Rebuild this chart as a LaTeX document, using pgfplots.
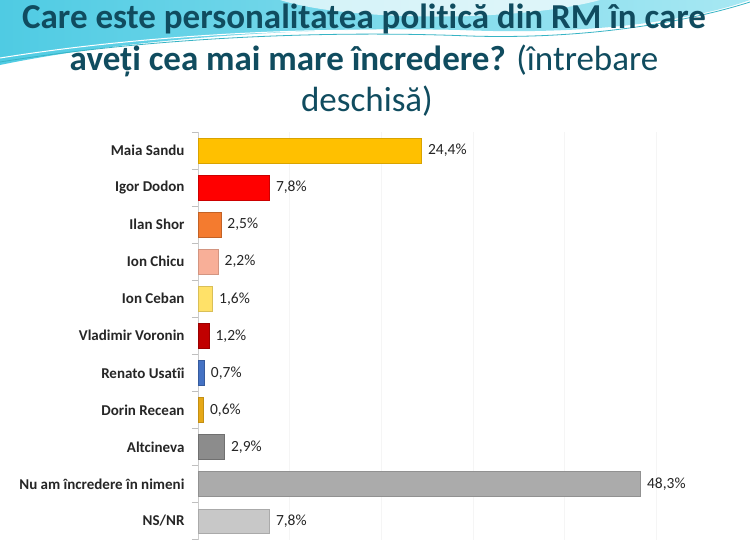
\documentclass[border=0pt]{standalone}
\usepackage{pgfplots}
\pgfplotsset{compat=1.18}
\usepackage{fontspec}
\setmainfont{Carlito}[Ligatures=NoCommon]
\definecolor{titlec}{RGB}{16,76,95}
\definecolor{wave1}{HTML}{4FCBE3}
\definecolor{wave2}{HTML}{A8E8F3}
\definecolor{maia}{HTML}{FFC000}
\definecolor{igor}{HTML}{FF0000}
\definecolor{ilan}{HTML}{F47B2F}
\definecolor{chicu}{HTML}{F8AF98}
\definecolor{ceban}{HTML}{FFE168}
\definecolor{voronin}{HTML}{C00000}
\definecolor{usatii}{HTML}{4472C4}
\definecolor{recean}{HTML}{E6A817}
\definecolor{alt}{HTML}{8C8C8C}
\definecolor{nuam}{HTML}{ABABAB}
\definecolor{nsnr}{HTML}{C8C8C8}
\begin{document}
\begin{tikzpicture}
\path[use as bounding box, fill=white] (0pt,0pt) rectangle (750pt,-550pt);
% decorative wave
\shade[left color=wave1, right color=wave2] (0pt,0pt) -- (0pt,-65pt) .. controls (120pt,-40pt) and (300pt,-26pt) .. (460pt,-30pt) .. controls (600pt,-36pt) and (700pt,-18pt) .. (750pt,0pt) -- cycle;
\fill[white, opacity=0.7] (280pt,0pt) .. controls (350pt,-22pt) and (520pt,-22pt) .. (600pt,0pt) -- cycle;
\draw[wave1!70!teal, line width=0.8pt] (0pt,-62pt) .. controls (150pt,-38pt) and (320pt,-30pt) .. (470pt,-36pt) .. controls (600pt,-40pt) and (700pt,-18pt) .. (750pt,-2pt);
\draw[white, line width=1pt] (0pt,-58pt) .. controls (150pt,-34pt) and (320pt,-26pt) .. (470pt,-32pt);
% title
\node[anchor=base, font=\bfseries\fontsize{35}{40}\selectfont, text=titlec, inner sep=0pt] at (364pt,-28pt) {Care este personalitatea politică din RM în care};
\node[anchor=base, font=\fontsize{35}{40}\selectfont, text=titlec, inner sep=0pt] at (364pt,-70pt) {\textbf{aveți cea mai mare încredere?} (întrebare};
\node[anchor=base, font=\fontsize{35}{40}\selectfont, text=titlec, inner sep=0pt] at (367pt,-111pt) {deschisă)};
\begin{axis}[
  at={(198pt,-132pt)}, anchor=north west,
  scale only axis, width=504pt, height=407.5pt,
  xbar, bar width=24.5pt, bar shift=0pt,
  xmin=0, xmax=55,
  ymin=-0.5, ymax=10.5, y dir=reverse,
  ytick={0,...,10},
  yticklabels={Maia Sandu, Igor Dodon, Ilan Shor, Ion Chicu, Ion Ceban, Vladimir Voronin, Renato Usatîi, Dorin Recean, Altcineva, Nu am încredere în nimeni, NS/NR},
  minor ytick={-0.5,0.5,...,10.5},
  major tick length=0pt, minor tick length=6pt,
  tick align=outside, ytick pos=left,
  xtick={10,20,30,40,50}, xticklabels={},
  xmajorgrids, grid style={draw=black!4},
  axis y line*=left, axis x line*=bottom,
  x axis line style={draw=none},
  y axis line style={draw=black!20},
  every tick/.style={draw=black!25},
  minor tick style={draw=black!25},
  yticklabel style={font=\bfseries\fontsize{15}{18}\selectfont, text=black!85, xshift=-10pt},
  point meta=x,
  nodes near coords={\pgfmathprintnumber[fixed,fixed zerofill,precision=1,use comma,assume math mode=true]{\pgfplotspointmeta}\%},
  every node near coord/.append style={font=\fontsize{15.5}{18}\selectfont, text=black!85, anchor=west, xshift=3pt},
  clip=false,
]
\addplot[fill=maia, draw=maia!85!black] coordinates {(24.4,0)};
\addplot[fill=igor, draw=igor!80!black] coordinates {(7.8,1)};
\addplot[fill=ilan, draw=ilan!80!black] coordinates {(2.5,2)};
\addplot[fill=chicu, draw=chicu!85!black] coordinates {(2.2,3)};
\addplot[fill=ceban, draw=ceban!85!black] coordinates {(1.6,4)};
\addplot[fill=voronin, draw=voronin!80!black] coordinates {(1.2,5)};
\addplot[fill=usatii, draw=usatii!80!black] coordinates {(0.7,6)};
\addplot[fill=recean, draw=recean!85!black] coordinates {(0.6,7)};
\addplot[fill=alt, draw=alt!80!black] coordinates {(2.9,8)};
\addplot[fill=nuam, draw=nuam!85!black] coordinates {(48.3,9)};
\addplot[fill=nsnr, draw=nsnr!85!black] coordinates {(7.8,10)};
\end{axis}
\end{tikzpicture}
\end{document}
